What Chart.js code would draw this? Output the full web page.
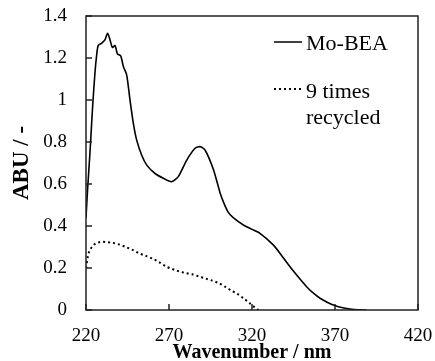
<!DOCTYPE html>
<html>
<head>
<meta charset="utf-8">
<script src="https://cdn.jsdelivr.net/npm/chart.js@4.4.1/dist/chart.umd.min.js"></script>
<style>
  html, body { margin: 0; padding: 0; background: #fff; }
  #wrap { width: 435px; height: 361px; }
</style>
</head>
<body>
<div id="wrap"><canvas id="chart"></canvas></div>
<script>
// wavelength (nm) and absorbance
var freshX = [220, 221, 222.4, 224, 225.4, 226.5, 227.4, 229.4, 231.4, 233, 234.5, 235.9, 237.5, 238.9, 240.9, 242.5, 244.5, 246.5, 248.5, 250.5,
	253.5, 256.6, 261.6, 266.6, 271.6, 275.6, 280.7, 285.7, 288.7, 291.7, 296.7, 300.7, 303, 305.7, 308.7, 314.8, 319.8, 324.8, 332.8, 337.8,
	342.9, 347.9, 352.9, 357, 361, 365, 369, 374, 379, 384, 389];
var freshY = [0.44, 0.58, 0.75, 0.97, 1.13, 1.22, 1.26, 1.27, 1.286, 1.318, 1.286, 1.25, 1.26, 1.22, 1.21, 1.16, 1.12, 1.0, 0.89, 0.81,
	0.738, 0.69, 0.65, 0.627, 0.611, 0.635, 0.714, 0.77, 0.778, 0.762, 0.67, 0.56, 0.51, 0.465, 0.44, 0.405, 0.385, 0.365, 0.31, 0.26,
	0.206, 0.157, 0.111, 0.08, 0.056, 0.038, 0.024, 0.012, 0.005, 0.001, 0];

var recycledX = [220, 221, 222, 224, 226, 228, 230, 233, 236, 240, 244, 248, 252, 256, 260, 264, 268, 272, 276, 280,
	284, 288, 292, 296, 300, 304, 308, 311, 315, 319, 322, 324];
var recycledY = [0.20, 0.25, 0.28, 0.305, 0.318, 0.323, 0.325, 0.323, 0.32, 0.312, 0.30, 0.286, 0.27, 0.258, 0.245, 0.228, 0.208, 0.195, 0.184, 0.176,
	0.17, 0.16, 0.15, 0.14, 0.128, 0.11, 0.09, 0.078, 0.055, 0.03, 0.01, 0];

var seriesNames = ['Mo-BEA', ['9 times', 'recycled']];
var xTicks = [220, 270, 320, 370, 420];
var yTicks = [0, 0.2, 0.4, 0.6, 0.8, 1, 1.2, 1.4];

var SERIF = "'Liberation Serif', 'DejaVu Serif', serif";

function toPoints(xs, ys) {
	var pts = [];
	for (var i = 0; i < xs.length; i++) pts.push({ x: xs[i], y: ys[i] });
	return pts;
}

// box round the plot, inward ticks and the legend in the corner
var framePlugin = {
	id: 'frame',
	afterDraw: function (chart) {
		var ctx = chart.ctx;
		var a = chart.chartArea;
		var xs = chart.scales.x, ys = chart.scales.y;
		ctx.save();
		ctx.strokeStyle = '#222';
		ctx.lineWidth = 1.5;
		ctx.strokeRect(a.left, a.top, a.right - a.left, a.bottom - a.top);
		ctx.beginPath();
		yTicks.forEach(function (v) {
			var py = ys.getPixelForValue(v);
			ctx.moveTo(a.left, py);
			ctx.lineTo(a.left + 6, py);
		});
		xTicks.forEach(function (v) {
			var px = xs.getPixelForValue(v);
			ctx.moveTo(px, a.bottom);
			ctx.lineTo(px, a.bottom - 6);
		});
		ctx.stroke();

		// legend
		var lx0 = 274, lx1 = 302, tx = 306;
		ctx.fillStyle = '#000';
		ctx.font = '22px ' + SERIF;
		ctx.textBaseline = 'alphabetic';
		ctx.textAlign = 'left';

		ctx.strokeStyle = '#000';
		ctx.lineWidth = 1.5;
		ctx.beginPath();
		ctx.moveTo(lx0, 42);
		ctx.lineTo(lx1, 42);
		ctx.stroke();
		ctx.fillText(seriesNames[0], tx, 50);

		ctx.lineWidth = 2;
		ctx.setLineDash([2, 3]);
		ctx.beginPath();
		ctx.moveTo(lx0, 89);
		ctx.lineTo(lx1, 89);
		ctx.stroke();
		ctx.setLineDash([]);
		ctx.fillText(seriesNames[1][0], tx, 98);
		ctx.fillText(seriesNames[1][1], tx, 124);
		ctx.restore();
	}
};

var chart = new Chart(document.getElementById('chart'), {
	type: 'scatter',
	data: {
		datasets: [{
			label: 'Mo-BEA',
			data: toPoints(freshX, freshY),
			showLine: true,
			borderColor: '#000',
			borderWidth: 1.6,
			pointRadius: 0,
			tension: 0.25
		}, {
			label: '9 times recycled',
			data: toPoints(recycledX, recycledY),
			showLine: true,
			borderColor: '#000',
			borderWidth: 2,
			borderDash: [2, 3],
			pointRadius: 0,
			tension: 0.3
		}]
	},
	options: {
		responsive: true,
		maintainAspectRatio: false,
		animation: false,
		layout: { padding: { top: 16, right: 17, left: 0, bottom: 0 } },
		plugins: {
			legend: { display: false },
			tooltip: { enabled: false }
		},
		scales: {
			x: {
				type: 'linear',
				min: 220,
				max: 420,
				afterBuildTicks: function (s) { s.ticks = xTicks.map(function (v) { return { value: v }; }); },
				afterFit: function (s) { s.height = 51; s.paddingLeft = 0; s.paddingRight = 0; },
				grid: { display: false, drawTicks: false },
				border: { display: false },
				ticks: { color: '#000', padding: 15, maxRotation: 0, font: { family: SERIF, size: 19 } },
				title: {
					display: true,
					text: 'Wavenumber / nm',
					color: '#000',
					padding: { top: 0, bottom: 0 },
					font: { family: SERIF, size: 20, weight: 'bold', lineHeight: 0.8 }
				}
			},
			y: {
				min: 0,
				max: 1.4,
				afterBuildTicks: function (s) { s.ticks = yTicks.map(function (v) { return { value: v }; }); },
				afterFit: function (s) { s.width = 86; s.paddingTop = 0; s.paddingBottom = 0; },
				grid: { display: false, drawTicks: false },
				border: { display: false },
				ticks: {
					color: '#000',
					padding: 19,
					font: { family: SERIF, size: 19 },
					callback: function (v) { return String(Number(v.toFixed(1))); }
				},
				title: {
					display: true,
					text: 'ABU / -',
					color: '#000',
					padding: { top: 8, bottom: 0 },
					font: { family: SERIF, size: 23, weight: 'bold', lineHeight: 1.2 }
				}
			}
		}
	},
	plugins: [framePlugin]
});
</script>
</body>
</html>
